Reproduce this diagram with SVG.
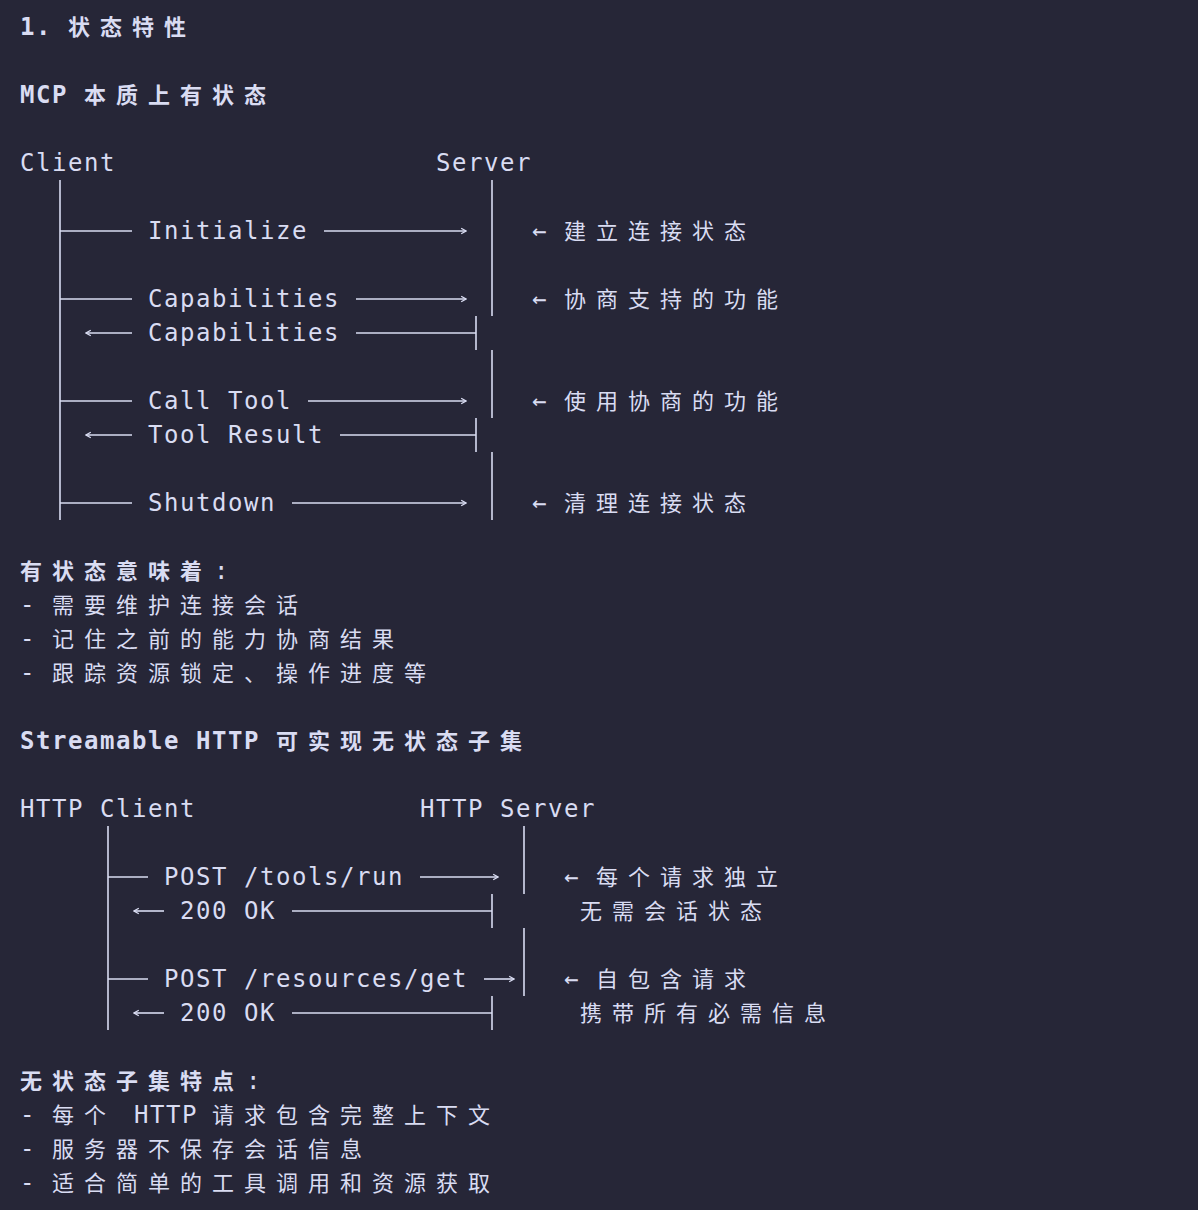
<svg xmlns="http://www.w3.org/2000/svg" width="1198" height="1210" viewBox="0 0 1198 1210">
<style>
.m{font-family:"DejaVu Sans Mono","Liberation Mono",monospace;font-size:24px;letter-spacing:1.55px;fill:#d9dcf2}
.c{font-family:"Noto Sans CJK SC",sans-serif;font-size:22px;letter-spacing:10px;fill:#d9dcf2}
.b{font-weight:bold}
line{stroke:#d9dcf2;stroke-width:1.6}
</style>
<defs>
<marker id="a" viewBox="0 0 10 10" refX="9" refY="5" markerWidth="8" markerHeight="8" orient="auto-start-reverse" markerUnits="userSpaceOnUse"><path d="M3,1.5 L9,5 L3,8.5" fill="none" stroke="#d9dcf2" stroke-width="1.6"/></marker>
</defs>
<rect width="1198" height="1210" fill="#262637"/>
<g id="text">
<text class="m b" x="20" y="35">1.</text><text class="c b" x="68" y="35">状态特性</text>
<text class="m b" x="20" y="103">MCP</text><text class="c b" x="84" y="103">本质上有状态</text>
<text class="m" x="20" y="171">Client</text><text class="m" x="436" y="171">Server</text>
</g>
<g id="n-init"><text class="m" x="148" y="239">Initialize</text><text class="m" x="532" y="239">←</text><text class="c" x="564" y="239">建立连接状态</text></g>
<g id="n-cap"><text class="m" x="148" y="307">Capabilities</text><text class="m" x="532" y="307">←</text><text class="c" x="564" y="307">协商支持的功能</text>
<text class="m" x="148" y="341">Capabilities</text></g>
<g id="n-call"><text class="m" x="148" y="409">Call Tool</text><text class="m" x="532" y="409">←</text><text class="c" x="564" y="409">使用协商的功能</text>
<text class="m" x="148" y="443">Tool Result</text></g>
<g id="n-shut"><text class="m" x="148" y="511">Shutdown</text><text class="m" x="532" y="511">←</text><text class="c" x="564" y="511">清理连接状态</text></g>
<g id="list1">
<text class="c b" x="20" y="579">有状态意味着</text><text class="m" x="214" y="579">:</text>
<text class="m" x="20" y="613">-</text><text class="c" x="52" y="613">需要维护连接会话</text>
<text class="m" x="20" y="647">-</text><text class="c" x="52" y="647">记住之前的能力协商结果</text>
<text class="m" x="20" y="681">-</text><text class="c" x="52" y="681">跟踪资源锁定、操作进度等</text>
<text class="m b" x="20" y="749">Streamable HTTP</text><text class="c b" x="276" y="749">可实现无状态子集</text>
<text class="m" x="20" y="817">HTTP Client</text><text class="m" x="420" y="817">HTTP Server</text>
</g>
<g id="n-post1"><text class="m" x="164" y="885">POST /tools/run</text><text class="m" x="564" y="885">←</text><text class="c" x="596" y="885">每个请求独立</text>
<text class="m" x="180" y="919">200 OK</text><text class="c" x="580" y="919">无需会话状态</text></g>
<g id="n-post2"><text class="m" x="164" y="987">POST /resources/get</text><text class="m" x="564" y="987">←</text><text class="c" x="596" y="987">自包含请求</text>
<text class="m" x="180" y="1021">200 OK</text><text class="c" x="580" y="1021">携带所有必需信息</text></g>
<g id="list2">
<text class="c b" x="20" y="1089">无状态子集特点</text><text class="m" x="246" y="1089">:</text>
<text class="m" x="20" y="1123">-</text><text class="c" x="52" y="1123">每个</text><text class="m" x="134" y="1123">HTTP</text><text class="c" x="212" y="1123">请求包含完整上下文</text>
<text class="m" x="20" y="1157">-</text><text class="c" x="52" y="1157">服务器不保存会话信息</text>
<text class="m" x="20" y="1191">-</text><text class="c" x="52" y="1191">适合简单的工具调用和资源获取</text>
</g>
<g id="connectors">
<line x1="60" y1="180" x2="60" y2="520"/>
<line x1="492" y1="180" x2="492" y2="316"/>
<line x1="492" y1="350" x2="492" y2="418"/>
<line x1="492" y1="452" x2="492" y2="520"/>
<line x1="60" y1="231" x2="132" y2="231"/><line x1="324" y1="231" x2="466" y2="231" marker-end="url(#a)"/>
<line x1="60" y1="299" x2="132" y2="299"/><line x1="356" y1="299" x2="466" y2="299" marker-end="url(#a)"/>
<line x1="86" y1="333" x2="132" y2="333" marker-start="url(#a)"/><line x1="356" y1="333" x2="476" y2="333"/><line x1="476" y1="316" x2="476" y2="350"/>
<line x1="60" y1="401" x2="132" y2="401"/><line x1="308" y1="401" x2="466" y2="401" marker-end="url(#a)"/>
<line x1="86" y1="435" x2="132" y2="435" marker-start="url(#a)"/><line x1="340" y1="435" x2="476" y2="435"/><line x1="476" y1="418" x2="476" y2="452"/>
<line x1="60" y1="503" x2="132" y2="503"/><line x1="292" y1="503" x2="466" y2="503" marker-end="url(#a)"/>
<line x1="108" y1="826" x2="108" y2="1030"/>
<line x1="524" y1="826" x2="524" y2="894"/>
<line x1="524" y1="928" x2="524" y2="996"/>
<line x1="108" y1="877" x2="148" y2="877"/><line x1="420" y1="877" x2="498" y2="877" marker-end="url(#a)"/>
<line x1="134" y1="911" x2="164" y2="911" marker-start="url(#a)"/><line x1="292" y1="911" x2="492" y2="911"/><line x1="492" y1="894" x2="492" y2="928"/>
<line x1="108" y1="979" x2="148" y2="979"/><line x1="484" y1="979" x2="514" y2="979" marker-end="url(#a)"/>
<line x1="134" y1="1013" x2="164" y2="1013" marker-start="url(#a)"/><line x1="292" y1="1013" x2="492" y2="1013"/><line x1="492" y1="996" x2="492" y2="1030"/>
</g>
</svg>
